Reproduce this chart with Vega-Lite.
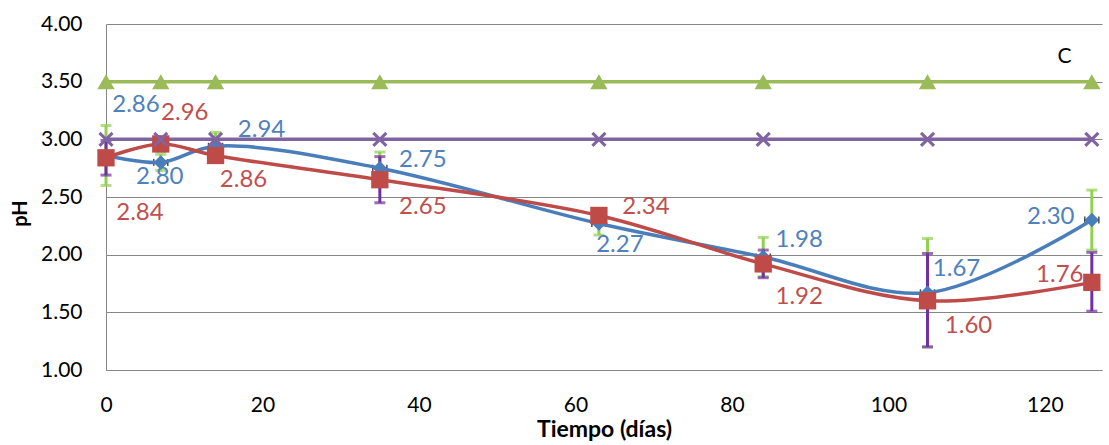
{
  "$schema": "https://vega.github.io/schema/vega-lite/v6.json",
  "width": 996,
  "height": 346,
  "autosize": "none",
  "padding": {"left": 106, "top": 24, "right": 7, "bottom": 75},
  "background": "white",
  "config": {"view": {"stroke": null}, "font": "Lato"},
  "datasets": {
    "pts": [
      {"s": "A", "day": 0, "ph": 2.86, "lo": 2.60, "hi": 3.12, "xlo": -0.9, "xhi": 0.9},
      {"s": "A", "day": 7, "ph": 2.80, "lo": 2.73, "hi": 2.87, "xlo": 6.1, "xhi": 7.9},
      {"s": "A", "day": 14, "ph": 2.94, "lo": 2.82, "hi": 3.06, "xlo": 13.1, "xhi": 14.9},
      {"s": "A", "day": 35, "ph": 2.75, "lo": 2.61, "hi": 2.89, "xlo": 34.1, "xhi": 35.9},
      {"s": "A", "day": 63, "ph": 2.27, "lo": 2.17, "hi": 2.37, "xlo": 62.1, "xhi": 63.9},
      {"s": "A", "day": 84, "ph": 1.98, "lo": 1.81, "hi": 2.15, "xlo": 83.1, "xhi": 84.9},
      {"s": "A", "day": 105, "ph": 1.67, "lo": 1.20, "hi": 2.14, "xlo": 104.1, "xhi": 105.9},
      {"s": "A", "day": 126, "ph": 2.30, "lo": 2.04, "hi": 2.56, "xlo": 125.1, "xhi": 126.9},
      {"s": "B", "day": 0, "ph": 2.84, "lo": 2.69, "hi": 2.99},
      {"s": "B", "day": 7, "ph": 2.96, "lo": 2.90, "hi": 3.02},
      {"s": "B", "day": 14, "ph": 2.86, "lo": 2.80, "hi": 2.92},
      {"s": "B", "day": 35, "ph": 2.65, "lo": 2.45, "hi": 2.85},
      {"s": "B", "day": 63, "ph": 2.34, "lo": 2.30, "hi": 2.38},
      {"s": "B", "day": 84, "ph": 1.92, "lo": 1.80, "hi": 2.04},
      {"s": "B", "day": 105, "ph": 1.60, "lo": 1.20, "hi": 2.01},
      {"s": "B", "day": 126, "ph": 1.76, "lo": 1.51, "hi": 2.02},
      {"s": "C", "day": 0, "ph": 3.5},
      {"s": "C", "day": 7, "ph": 3.5},
      {"s": "C", "day": 14, "ph": 3.5},
      {"s": "C", "day": 35, "ph": 3.5},
      {"s": "C", "day": 63, "ph": 3.5},
      {"s": "C", "day": 84, "ph": 3.5},
      {"s": "C", "day": 105, "ph": 3.5},
      {"s": "C", "day": 126, "ph": 3.5},
      {"s": "D", "day": 0, "ph": 3.0},
      {"s": "D", "day": 7, "ph": 3.0},
      {"s": "D", "day": 14, "ph": 3.0},
      {"s": "D", "day": 35, "ph": 3.0},
      {"s": "D", "day": 63, "ph": 3.0},
      {"s": "D", "day": 84, "ph": 3.0},
      {"s": "D", "day": 105, "ph": 3.0},
      {"s": "D", "day": 126, "ph": 3.0}
    ],
    "ann": [{"day": 122.5, "ph": 3.71, "t": "C"}]
  },
  "data": {"name": "pts"},
  "encoding": {
    "x": {
      "field": "day", "type": "quantitative",
      "scale": {"domain": [0, 127.3], "nice": false, "zero": false},
      "axis": {
        "values": [0, 20, 40, 60, 80, 100, 120],
        "grid": false, "ticks": false, "labelFlush": false,
        "domainColor": "#868686", "domainWidth": 1,
        "labelFontSize": 21, "labelColor": "#000000", "labelPadding": 24,
        "title": "Tiempo (días)", "titleFontSize": 23, "titleFontWeight": "bold",
        "titleColor": "#000000", "titlePadding": 3
      }
    },
    "y": {
      "field": "ph", "type": "quantitative",
      "scale": {"domain": [1, 4], "nice": false, "zero": false},
      "axis": {
        "values": [1, 1.5, 2, 2.5, 3, 3.5, 4], "format": ".2f",
        "grid": true, "gridColor": "#868686", "gridWidth": 1,
        "ticks": false, "domainColor": "#868686", "domainWidth": 1,
        "labelFontSize": 21, "labelColor": "#000000", "labelPadding": 24,
        "title": "pH", "titleFontSize": 20, "titleFontWeight": "bold",
        "titleColor": "#000000", "titleX": -76, "titleY": 189
      }
    }
  },
  "layer": [
    {
      "transform": [{"filter": "datum.s=='A'"}],
      "mark": {"type": "errorbar", "ticks": true, "thickness": 3, "size": 11, "color": "#92D050"},
      "encoding": {"y": {"field": "lo", "type": "quantitative"}, "y2": {"field": "hi"}}
    },
    {
      "transform": [{"filter": "datum.s=='B'"}],
      "mark": {"type": "errorbar", "ticks": true, "thickness": 3, "size": 11, "color": "#7030A0"},
      "encoding": {"y": {"field": "lo", "type": "quantitative"}, "y2": {"field": "hi"}}
    },
    {
      "transform": [{"filter": "datum.s=='A'"}],
      "mark": {"type": "errorbar", "ticks": true, "thickness": 1.5, "size": 7, "color": "#000000", "clip": true},
      "encoding": {"x": {"field": "xlo", "type": "quantitative"}, "x2": {"field": "xhi"}}
    },
    {
      "mark": {"type": "line", "interpolate": "catmull-rom", "strokeWidth": 3.5},
      "encoding": {
        "color": {
          "field": "s", "type": "nominal", "legend": null,
          "scale": {"domain": ["A", "B", "C", "D"], "range": ["#4A7EBB", "#BE4B48", "#9BBB59", "#8064A2"]}
        },
        "detail": {"field": "s"}
      }
    },
    {
      "transform": [{"filter": "datum.s=='A'"}],
      "mark": {"type": "point", "shape": "diamond", "filled": true, "size": 210, "color": "#4A7EBB", "opacity": 1}
    },
    {
      "transform": [{"filter": "datum.s=='B'"}],
      "mark": {"type": "point", "shape": "square", "filled": true, "size": 300, "color": "#BE4B48", "opacity": 1, "cornerRadius": 2}
    },
    {
      "transform": [{"filter": "datum.s=='C'"}],
      "mark": {"type": "point", "shape": "triangle-up", "filled": true, "size": 300, "color": "#9BBB59", "opacity": 1}
    },
    {
      "transform": [{"filter": "datum.s=='D'"}],
      "mark": {"type": "point", "shape": "M-1,-1L1,1M-1,1L1,-1", "filled": false, "size": 170, "strokeWidth": 3, "color": "#8064A2", "opacity": 1}
    },
    {"transform": [{"filter": "datum.s=='A' && datum.day==0"}], "mark": {"type": "text", "dx": 30, "dy": -50, "color": "#4F81BD", "fontSize": 24}, "encoding": {"text": {"field": "ph", "format": ".2f"}}},
    {"transform": [{"filter": "datum.s=='A' && datum.day==7"}], "mark": {"type": "text", "dx": -1, "dy": 15, "color": "#4F81BD", "fontSize": 24}, "encoding": {"text": {"field": "ph", "format": ".2f"}}},
    {"transform": [{"filter": "datum.s=='A' && datum.day==14"}], "mark": {"type": "text", "dx": 46, "dy": -16, "color": "#4F81BD", "fontSize": 24}, "encoding": {"text": {"field": "ph", "format": ".2f"}}},
    {"transform": [{"filter": "datum.s=='A' && datum.day==35"}], "mark": {"type": "text", "dx": 43, "dy": -8, "color": "#4F81BD", "fontSize": 24}, "encoding": {"text": {"field": "ph", "format": ".2f"}}},
    {"transform": [{"filter": "datum.s=='A' && datum.day==63"}], "mark": {"type": "text", "dx": 21, "dy": 21, "color": "#4F81BD", "fontSize": 24}, "encoding": {"text": {"field": "ph", "format": ".2f"}}},
    {"transform": [{"filter": "datum.s=='A' && datum.day==84"}], "mark": {"type": "text", "dx": 36, "dy": -17, "color": "#4F81BD", "fontSize": 24}, "encoding": {"text": {"field": "ph", "format": ".2f"}}},
    {"transform": [{"filter": "datum.s=='A' && datum.day==105"}], "mark": {"type": "text", "dx": 29, "dy": -24, "color": "#4F81BD", "fontSize": 24}, "encoding": {"text": {"field": "ph", "format": ".2f"}}},
    {"transform": [{"filter": "datum.s=='A' && datum.day==126"}], "mark": {"type": "text", "dx": -41, "dy": -3, "color": "#4F81BD", "fontSize": 24}, "encoding": {"text": {"field": "ph", "format": ".2f"}}},
    {"transform": [{"filter": "datum.s=='B' && datum.day==0"}], "mark": {"type": "text", "dx": 34, "dy": 55, "color": "#C0504D", "fontSize": 24}, "encoding": {"text": {"field": "ph", "format": ".2f"}}},
    {"transform": [{"filter": "datum.s=='B' && datum.day==7"}], "mark": {"type": "text", "dx": 24, "dy": -31, "color": "#C0504D", "fontSize": 24}, "encoding": {"text": {"field": "ph", "format": ".2f"}}},
    {"transform": [{"filter": "datum.s=='B' && datum.day==14"}], "mark": {"type": "text", "dx": 28, "dy": 25, "color": "#C0504D", "fontSize": 24}, "encoding": {"text": {"field": "ph", "format": ".2f"}}},
    {"transform": [{"filter": "datum.s=='B' && datum.day==35"}], "mark": {"type": "text", "dx": 43, "dy": 27, "color": "#C0504D", "fontSize": 24}, "encoding": {"text": {"field": "ph", "format": ".2f"}}},
    {"transform": [{"filter": "datum.s=='B' && datum.day==63"}], "mark": {"type": "text", "dx": 47, "dy": -8, "color": "#C0504D", "fontSize": 24}, "encoding": {"text": {"field": "ph", "format": ".2f"}}},
    {"transform": [{"filter": "datum.s=='B' && datum.day==84"}], "mark": {"type": "text", "dx": 36, "dy": 33, "color": "#C0504D", "fontSize": 24}, "encoding": {"text": {"field": "ph", "format": ".2f"}}},
    {"transform": [{"filter": "datum.s=='B' && datum.day==105"}], "mark": {"type": "text", "dx": 41, "dy": 25, "color": "#C0504D", "fontSize": 24}, "encoding": {"text": {"field": "ph", "format": ".2f"}}},
    {"transform": [{"filter": "datum.s=='B' && datum.day==126"}], "mark": {"type": "text", "dx": -32, "dy": -7, "color": "#C0504D", "fontSize": 24}, "encoding": {"text": {"field": "ph", "format": ".2f"}}},
    {
      "data": {"name": "ann"},
      "mark": {"type": "text", "color": "#000000", "fontSize": 21},
      "encoding": {"text": {"field": "t"}}
    }
  ]
}
